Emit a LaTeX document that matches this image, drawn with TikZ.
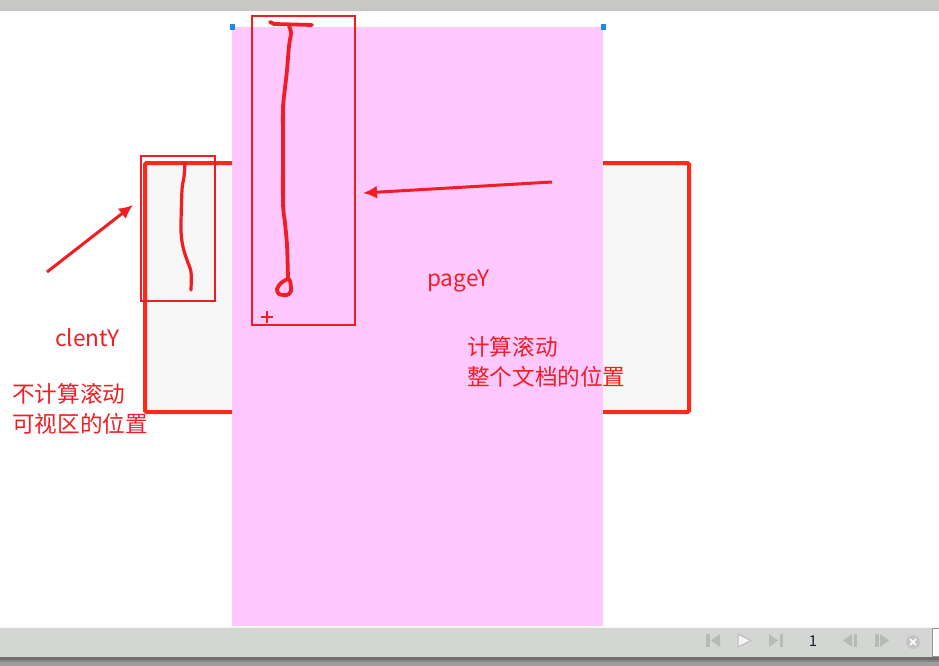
\documentclass[tikz,border=0pt]{standalone}
\usepackage{fontspec}
\setmainfont{Noto Sans CJK SC}
\usetikzlibrary{arrows.meta}
\definecolor{pen}{RGB}{240,30,36}
\definecolor{frame}{RGB}{255,40,25}
\definecolor{sheet}{RGB}{255,200,255}
\definecolor{view}{RGB}{245,246,245}
\definecolor{paper}{RGB}{253,254,253}
\definecolor{barbg}{RGB}{212,214,211}
\definecolor{topbar}{RGB}{199,200,197}
\definecolor{handle}{RGB}{25,140,230}
\definecolor{icon}{RGB}{184,186,184}
\definecolor{numink}{RGB}{30,30,50}
\tikzset{
  >={Latex[length=14pt,width=13pt]},
  note/.style={text=pen,font=\fontsize{22.6}{30}\selectfont,anchor=west,inner sep=0pt,align=left},
  sel/.style={draw=pen,line width=1.6pt},
  scribble/.style={draw=pen,line width=#1,line cap=round,line join=round},
  scribble/.default=3.8pt,
  pointer/.style={->,draw=pen,line width=3pt},
  grip/.style={fill=handle,minimum width=5pt,minimum height=6pt,inner sep=0pt},
  navicon/.style={fill=icon,draw=none},
}

\begin{document}
\begin{tikzpicture}[x=1pt,y=-1pt]
  \useasboundingbox (0,0) rectangle (939,666);
  % window background and bars
  \fill[paper] (0,0) rectangle (939,666);
  \fill[topbar] (0,0) rectangle (939,11);
  \fill[white!90!topbar] (0,11) rectangle (939,12.5);
  % viewport and document
  \draw[fill=view,draw=frame,line width=4pt,rounded corners=1.5pt] (145,163) rectangle (689,412);
  \fill[sheet] (232,27) rectangle (603,626);
  \node[grip] (g1) at (232,27) {};
  \node[grip] (g2) at (603,27) {};
  % hand drawn marks
  \draw[scribble] (270,22) -- (274,24) -- (312,25);
  \draw[scribble] plot[smooth] coordinates {(289,26) (291,33) (289,46) (287,70) (285,88) (283,108)
    (283,145) (283,203) (285,223) (287,245) (288,278)};
  \draw[scribble] plot[smooth cycle] coordinates {(288,279) (281,283) (277,289) (279,294) (287,295) (291,291) (290,281)};
  \draw[scribble=3.2pt] plot[smooth] coordinates {(185,163) (184,177) (182,190) (181,230) (183,247)
    (187,260) (191,272) (191,290)};
  \draw[pen,line width=2pt] (261,317) -- (273,317) (267,311) -- (267,323);
  % selections
  \draw[sel] (141,156) rectangle (215,301);
  \draw[sel] (252,16) rectangle (355,325);
  % arrows
  \coordinate (pfrom) at (552,182);
  \coordinate (pto) at (363,193);
  \coordinate (cfrom) at (47,272);
  \coordinate (cto) at (133,205);
  \draw[pointer] (pfrom) -- (pto);
  \draw[pointer] (cfrom) -- (cto);
  % labels
  \node[note] (clent) at (55,338) {clentY};
  \node[note] (clentnote) at (12,409) {不计算滚动\\可视区的位置};
  \node[note] (page) at (427,281) {pageY};
  \node[note] (pagenote) at (467,362) {计算滚动\\整个文档的位置};
  % bottom toolbar
  \fill[white!85!barbg] (0,626) rectangle (939,627.5);
  \fill[barbg] (0,627.5) rectangle (939,657);
  \fill[black!57] (0,657) rectangle (939,659.5);
  \fill[black!48] (0,659.5) rectangle (939,662);
  \fill[black!38] (0,662) rectangle (939,666);
  \fill[navicon] (706,634) rectangle (709.5,647);
  \fill[navicon] (711,640.5) -- (720,634) -- (720,647) -- cycle;
  \draw[icon,fill=white!70!barbg,line width=1pt] (738,634) -- (751,640.5) -- (738,647) -- cycle;
  \fill[navicon] (769,634) -- (778,640.5) -- (769,647) -- cycle;
  \fill[navicon] (779.5,634) rectangle (783,647);
  \node[text=numink,font=\fontsize{15}{15}\selectfont,inner sep=0pt] (pagenum) at (813,641) {1};
  \fill[navicon] (843,640.5) -- (852,634) -- (852,647) -- cycle;
  \fill[navicon] (853.5,634) rectangle (857,647);
  \fill[navicon] (875,634) rectangle (878.5,647);
  \fill[navicon] (880,634) -- (889,640.5) -- (880,647) -- cycle;
  \fill[icon!85!white] (913,642) circle (7);
  \draw[white,line width=1.6pt] (910,639) -- (916,645) (916,639) -- (910,645);
  \draw[icon!80!black,fill=white!95!barbg,line width=0.8pt] (932,628) rectangle (945,656);
\end{tikzpicture}
\end{document}
